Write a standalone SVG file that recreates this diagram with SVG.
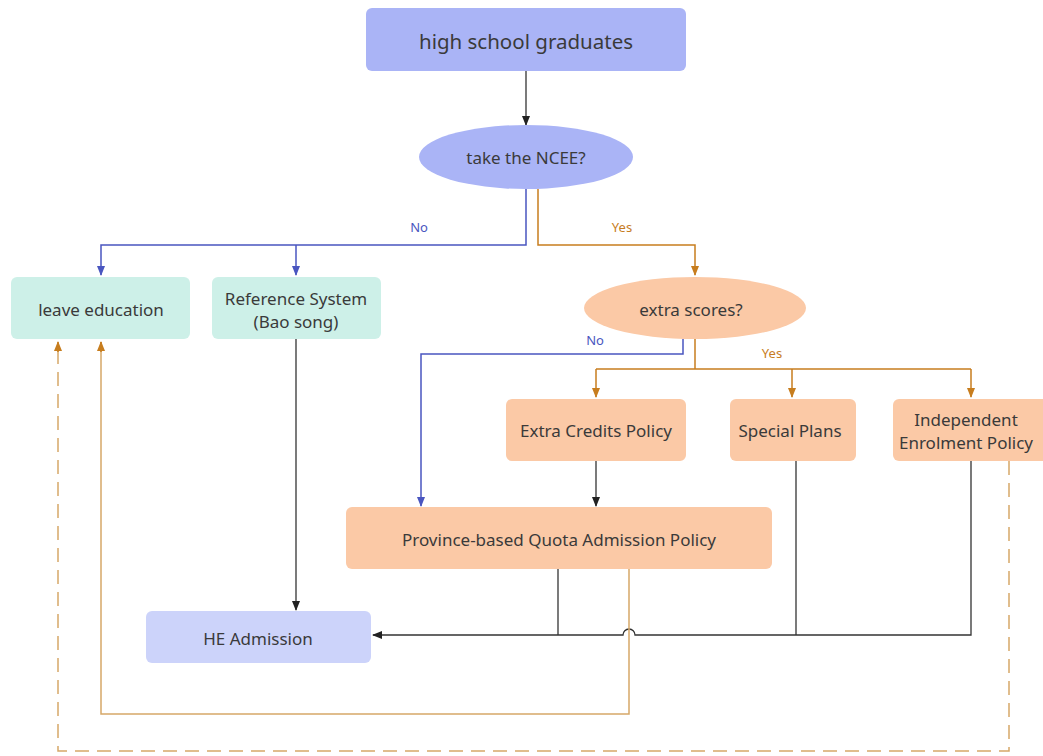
<svg xmlns="http://www.w3.org/2000/svg" width="1043" height="756" viewBox="0 0 1043 756">
<style>
.t{font-family:"Noto Sans","Open Sans",sans-serif;font-size:17px;fill:#3a3a3a;text-anchor:middle;dominant-baseline:central}
.lbl{font-family:"Noto Sans","Open Sans",sans-serif;font-size:13px;text-anchor:middle;dominant-baseline:central}
.blue{fill:#aab4f6}
.mint{fill:#cdf0e8}
.peach{fill:#fbc9a6}
.lav{fill:#ccd3fa}
.k{stroke:#333;stroke-width:1.3;fill:none}
.b{stroke:#4a56c0;stroke-width:1.5;fill:none}
.o{stroke:#c77d1e;stroke-width:1.5;fill:none}
.ol{stroke:#d6a868;stroke-width:1.5;fill:none}
.od{stroke:#d6a868;stroke-width:1.5;fill:none;stroke-dasharray:14 8}
</style>
<defs>
<marker id="ak" markerWidth="10" markerHeight="10" refX="9" refY="5" orient="auto" markerUnits="userSpaceOnUse"><path d="M0,1 L10,5 L0,9 Z" fill="#222"/></marker>
<marker id="ab" markerWidth="10" markerHeight="10" refX="9" refY="5" orient="auto" markerUnits="userSpaceOnUse"><path d="M0,1 L10,5 L0,9 Z" fill="#4a56c0"/></marker>
<marker id="ao" markerWidth="10" markerHeight="10" refX="9" refY="5" orient="auto" markerUnits="userSpaceOnUse"><path d="M0,1 L10,5 L0,9 Z" fill="#c77d1e"/></marker>
</defs>
<rect width="1043" height="756" fill="#fff"/>
<g id="connectors">
<line class="k" x1="526" y1="71" x2="526" y2="125" marker-end="url(#ak)"/>
<path class="b" d="M526,189 V245 H101 V275" marker-end="url(#ab)"/>
<path class="b" d="M296,245 V275" marker-end="url(#ab)"/>
<path class="o" d="M538,189 V245 H695 V275" marker-end="url(#ao)"/>
<path class="b" d="M683,339 V354 H421 V506" marker-end="url(#ab)"/>
<path class="o" d="M695,339 V369"/>
<path class="o" d="M596,369 H971"/>
<path class="o" d="M596,369 V397" marker-end="url(#ao)"/>
<path class="o" d="M792,369 V397" marker-end="url(#ao)"/>
<path class="o" d="M971,369 V397" marker-end="url(#ao)"/>
<line class="k" x1="596" y1="461" x2="596" y2="506" marker-end="url(#ak)"/>
<line class="k" x1="296" y1="339" x2="296" y2="610" marker-end="url(#ak)"/>
<path class="k" d="M558,569 V635"/>
<path class="k" d="M796,461 V635"/>
<path class="k" d="M971,461 V635 H635 A6,6 0 0 0 623,635 H373" marker-end="url(#ak)"/>
<path class="ol" d="M629,569 V714 H101 V342"/>
<path class="o" d="M101,352 V342" marker-end="url(#ao)"/>
<path class="od" d="M1009,461 V751 H58 V342"/>
<path class="o" d="M58,352 V342" marker-end="url(#ao)"/>
<text class="lbl" x="419" y="227" fill="#4a56c0">No</text>
<text class="lbl" x="622" y="227" fill="#c77d1e">Yes</text>
<text class="lbl" x="595" y="340" fill="#4a56c0">No</text>
<text class="lbl" x="772" y="353" fill="#c77d1e">Yes</text>
</g>
<g id="n-graduates"><rect class="blue" x="366" y="8" width="320" height="63" rx="6"/><text class="t" x="526" y="41" style="font-size:20.5px">high school graduates</text></g>
<g id="n-ncee"><ellipse class="blue" cx="526" cy="157" rx="107" ry="32"/><text class="t" x="526" y="157">take the NCEE?</text></g>
<g id="n-leave"><rect class="mint" x="11" y="277" width="179" height="62" rx="6"/><text class="t" x="101" y="309">leave education</text></g>
<g id="n-reference"><rect class="mint" x="212" y="277" width="169" height="62" rx="6"/><text class="t" x="296" y="298">Reference System</text><text class="t" x="296" y="321">(Bao song)</text></g>
<g id="n-extra"><ellipse class="peach" cx="695" cy="308" rx="111" ry="31"/><text class="t" x="691" y="309">extra scores?</text></g>
<g id="n-credits"><rect class="peach" x="506" y="399" width="180" height="62" rx="6"/><text class="t" x="596" y="430">Extra Credits Policy</text></g>
<g id="n-special"><rect class="peach" x="730" y="399" width="126" height="62" rx="6"/><text class="t" x="790" y="430">Special Plans</text></g>
<g id="n-independent"><rect class="peach" x="893" y="399" width="160" height="62" rx="6"/><text class="t" x="966" y="419">Independent</text><text class="t" x="966" y="442">Enrolment Policy</text></g>
<g id="n-province"><rect class="peach" x="346" y="507" width="426" height="62" rx="6"/><text class="t" x="559" y="539">Province-based Quota Admission Policy</text></g>
<g id="n-he"><rect class="lav" x="146" y="611" width="225" height="52" rx="6"/><text class="t" x="258" y="638">HE Admission</text></g>
</svg>
